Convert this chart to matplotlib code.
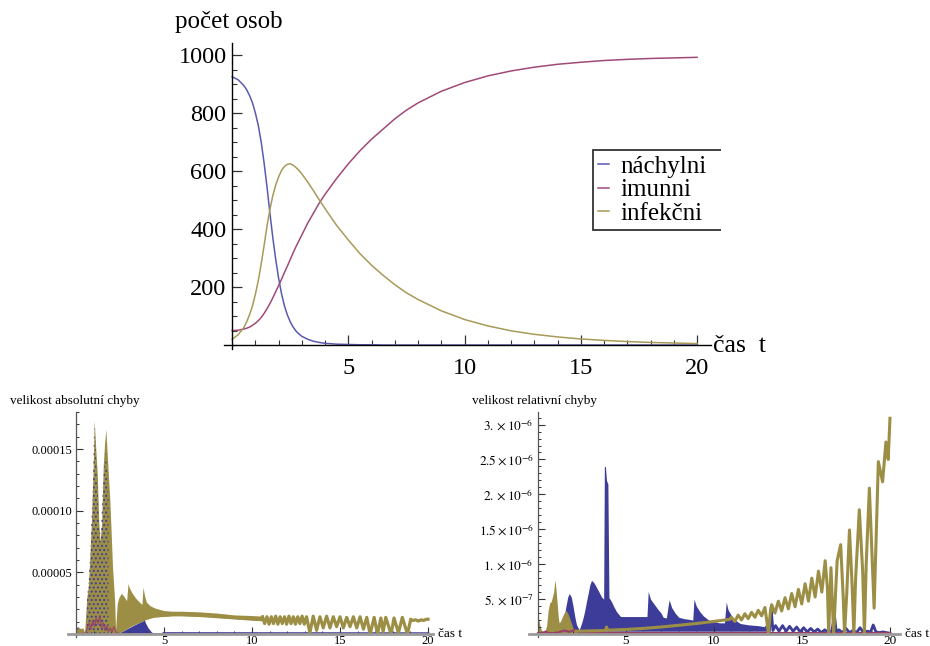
import numpy as np
import matplotlib
matplotlib.use('Agg')
import matplotlib.pyplot as plt
from matplotlib.ticker import MultipleLocator, FixedLocator
from matplotlib.transforms import Bbox, TransformedBbox

plt.rcParams['font.family'] = ['Liberation Serif', 'DejaVu Serif']
plt.rcParams['mathtext.fontset'] = 'stix'
plt.rcParams['hatch.linewidth'] = 0.9

# --- horní graf: počet osob (SIR model) ---
t_top = [0, 0.25, 0.5, 0.625, 0.75, 0.875, 1.0, 1.125, 1.25, 1.375, 1.5, 1.625, 1.75,
         1.875, 2.0, 2.125, 2.25, 2.375, 2.5, 2.625, 2.75, 2.875, 3.0, 3.25,
         3.5, 3.75, 4.0, 4.5, 5.0, 5.5, 6.0, 6.5, 7.0, 7.5, 8.0, 9.0, 10.0, 11.0,
         12.0, 13.0, 14.0, 15.0, 16.0, 17.0, 18.0, 19.0, 20.0]
nachylni = [925, 915, 895, 880, 860, 835, 800, 757, 700, 628, 545, 455, 370,
            295, 230, 177, 135, 104, 80, 62, 48, 38, 30, 20,
            13, 9, 6, 3, 2, 1, 1, 0, 0, 0, 0, 0, 0, 0,
            0, 0, 0, 0, 0, 0, 0, 0, 0]
imunni = [50, 51, 55, 58, 62, 68, 75, 84, 95, 109, 125, 143, 163,
          184, 205, 227, 250, 272, 295, 318, 340, 360, 380, 420,
          455, 490, 520, 575, 625, 670, 710, 745, 780, 810, 835, 875, 905, 928,
          945, 958, 968, 975, 981, 985, 988, 990, 992]
infekcni = [20, 35, 60, 80, 105, 135, 175, 222, 280, 343, 410, 468, 515,
            552, 580, 602, 616, 623, 625, 620, 612, 602, 590, 562,
            532, 500, 470, 412, 362, 315, 275, 240, 208, 180, 157, 118, 88, 66,
            49, 37, 28, 21, 16, 12, 9, 7, 5]
labels_top = ['náchylni', 'imunni', 'infekčni']

# --- absolutní chyba (jednotky 1e-5) ---
abs_start_t = [0.0, 0.1, 0.25, 0.4, 0.5]
abs_start_y = [0.25, 0.55, 0.45, 0.5, 0.1]
abs_start_b = [0.5, 0.6, 0.4, 0.3, 0.05]

abs_spike_t = [0.50, 0.62, 0.70, 0.80, 0.89, 0.98, 1.04, 1.12, 1.21, 1.30, 1.37,
               1.46, 1.55, 1.63, 1.70, 1.80, 1.93, 2.08, 2.20, 2.25]
abs_spike_hi = [0.3, 3.0, 3.8, 6.5, 9.5, 13.6, 17.3, 15.2, 13.0, 9.0, 7.5,
                9.0, 13.6, 15.5, 16.6, 14.0, 10.8, 5.4, 2.7, 0.3]
abs_spike_blue_t = [0.62, 0.80, 0.98, 1.04, 1.21, 1.37, 1.55, 1.70, 1.85]
abs_spike_blue_hi = [2.5, 6.0, 13.0, 17.3, 12.5, 7.0, 12.5, 15.0, 11.0]

abs_band_t = [2.25, 2.35, 2.45, 2.59, 2.75, 2.88, 2.96, 3.05, 3.2, 3.4, 3.6, 3.75,
              3.81, 3.9, 4.0, 4.2, 4.5, 5.0, 5.5, 6.0, 7.0, 8.0, 9.0, 10.0, 10.6]
abs_band_hi = [0.3, 2.5, 3.0, 3.3, 3.0, 2.7, 4.1, 3.7, 3.3, 2.9, 2.6, 2.4,
               3.8, 3.1, 2.6, 2.3, 2.1, 1.9, 1.85, 1.85, 1.8, 1.7, 1.55, 1.5, 1.45]
abs_band_lo = [0.0, 0.0, 0.1, 0.2, 0.35, 0.45, 0.5, 0.6, 0.7, 0.85, 0.95, 1.05,
               1.1, 1.15, 1.2, 1.3, 1.4, 1.45, 1.5, 1.5, 1.45, 1.35, 1.25, 1.15, 1.1]

abs_osc_t = [10.60, 10.72, 10.85, 10.97, 11.10, 11.22, 11.35, 11.47, 11.60, 11.72,
             11.85, 11.97, 12.10, 12.22, 12.35, 12.47, 12.60, 12.72, 12.85, 12.97,
             13.10, 13.29, 13.48, 13.67, 13.86, 14.05, 14.24, 14.43, 14.62, 14.81,
             15.00, 15.19, 15.38, 15.57, 15.76, 15.95, 16.14, 16.33, 16.52, 16.71,
             16.94, 17.13, 17.32, 17.45, 17.60, 17.90, 18.07, 18.32, 18.54, 18.83,
             19.02, 19.11, 19.30, 19.45, 19.60, 19.75, 19.90, 20.0]
abs_osc_v = [1.40, 0.85, 1.40, 0.80, 1.40, 0.85, 1.45, 0.80, 1.40, 0.85,
             1.40, 0.80, 1.45, 0.85, 1.40, 0.80, 1.40, 0.85, 1.45, 0.80,
             1.40, 0.10, 1.45, 0.30, 1.40, 0.50, 1.45, 0.50, 1.40, 0.60,
             1.40, 0.50, 1.35, 0.60, 1.40, 0.50, 1.40, 0.40, 1.35, 0.00,
             1.35, 0.00, 1.30, 0.20, 1.35, 0.00, 1.30, 0.10, 1.35, 0.00,
             1.20, 1.10, 1.15, 1.05, 1.15, 1.10, 1.20, 1.20]

abs_blue_t = [2.3, 2.6, 3.0, 3.4, 3.7, 3.8, 3.85, 3.95, 4.1, 4.3, 4.6, 5.0]
abs_blue_hi = [0.0, 0.2, 0.5, 0.8, 1.0, 1.05, 1.3, 0.9, 0.5, 0.15, 0.06, 0.04]
abs_blue_base_t = [5.0, 20.0]
abs_blue_base_v = [0.04, 0.03]

abs_mag_t = [0, 0.55, 0.65, 0.75, 0.85, 0.95, 1.05, 1.15, 1.25, 1.35, 1.45, 1.55,
             1.65, 1.75, 1.85, 1.95, 2.05, 2.15, 2.3, 2.5, 20]
abs_mag_v = [0.02, 0.05, 0.5, 0.9, 0.4, 1.1, 0.6, 1.3, 0.8, 1.5, 0.5, 0.9,
             0.3, 0.7, 0.2, 0.5, 0.15, 0.6, 0.1, 0.02, 0.02]

# --- relativní chyba (jednotky 1e-7) ---
rel_y_t = [0.0, 0.05, 0.12, 0.2, 0.3, 0.4, 0.5, 0.59, 0.68, 0.75, 0.82, 0.9, 0.97,
           1.03, 1.1, 1.16, 1.21, 1.28, 1.35, 1.45, 1.59, 1.7, 1.85, 2.01, 2.1, 2.2]
rel_y_hi = [2.0, 2.2, 1.2, 0.6, 0.3, 0.3, 1.2, 3.4, 4.5, 4.6, 5.2, 6.0, 7.8,
            6.5, 4.4, 2.5, 1.6, 1.8, 2.2, 2.8, 3.4, 3.0, 2.0, 0.8, 0.5, 0.4]

rel_b_t = [1.40, 1.5, 1.6, 1.7, 1.78, 1.9, 2.0, 2.1, 2.2, 2.35, 2.48, 2.58, 2.67,
           2.76, 2.86, 2.95, 3.05, 3.2, 3.33, 3.5, 3.62, 3.74, 3.78, 3.84, 3.9,
           3.98, 4.04, 4.1, 4.19, 4.3, 4.47, 4.7, 5.0, 5.5, 6.0, 6.2, 6.27, 6.4,
           6.6, 6.8, 7.0, 7.12, 7.3, 7.4, 7.46, 7.6, 7.8, 8.0, 8.3, 8.6, 8.8,
           8.87, 9.0, 9.2, 9.4, 9.7, 10.0, 10.3, 10.6, 10.7, 10.8, 11.0, 11.2,
           11.5, 12.0, 12.5, 13.0]
rel_b_hi = [0.5, 2.5, 4.0, 5.3, 5.8, 5.3, 4.0, 2.5, 1.3, 0.6, 1.5, 2.4, 3.4,
            4.6, 5.8, 7.0, 7.7, 7.3, 6.7, 5.9, 5.3, 5.0, 24.0, 24.0, 22.0,
            21.5, 5.2, 5.0, 4.6, 4.0, 3.2, 2.5, 2.5, 2.5, 2.5, 2.5, 6.1, 5.0,
            4.3, 3.6, 3.0, 2.4, 2.3, 4.0, 4.9, 3.8, 3.0, 2.4, 2.2, 2.1, 2.0,
            5.0, 4.0, 3.2, 2.6, 2.0, 1.8, 1.6, 1.6, 4.6, 3.5, 2.6, 2.0,
            1.5, 1.3, 1.2, 1.0]
rel_b_lo = [0.0] * 10 + [0.4] * 57

rel_b_osc_t = [13.0, 13.15, 13.25, 13.35, 13.5, 13.7, 13.9, 14.1, 14.3, 14.5, 14.7,
               14.9, 15.1, 15.3, 15.5, 15.7, 15.9, 16.1, 16.3, 16.5, 16.7, 16.85,
               16.95, 17.1, 17.3, 17.5, 17.7, 17.9, 18.1, 18.3, 18.5, 18.7, 18.9,
               19.05, 19.2, 19.4, 19.6, 19.8, 20.0]
rel_b_osc_v = [1.0, 0.4, 3.8, 0.5, 1.2, 0.4, 1.2, 0.4, 1.1, 0.4, 1.0,
               0.3, 0.9, 0.3, 0.8, 0.3, 0.7, 0.2, 0.6, 0.2, 0.5, 2.6,
               0.3, 0.6, 0.2, 0.8, 0.2, 0.5, 0.2, 0.9, 0.2, 0.4, 0.3,
               1.3, 0.3, 0.2, 0.3, 0.2, 0.1]

rel_y_line_t = [2.2, 3.0, 3.85, 3.9, 3.95, 4.0, 5.0, 6.0, 7.0, 8.0, 9.0, 10.0, 10.9,
                11.0, 11.19, 11.38, 11.57, 11.76, 11.95, 12.14, 12.33, 12.52, 12.71,
                12.9, 13.1, 13.2, 13.28, 13.47, 13.66, 13.85, 14.04, 14.23, 14.42,
                14.61, 14.8, 14.99, 15.18, 15.37, 15.56, 15.75, 15.94, 16.13, 16.32,
                16.45, 16.52, 16.65, 16.8, 17.0, 17.2, 17.35, 17.42, 17.55, 17.7,
                17.85, 17.95, 18.05, 18.26, 18.45, 18.55, 18.65, 18.83, 18.97, 19.1,
                19.34, 19.58, 19.77, 19.9, 20.0]
rel_y_line_v = [0.4, 0.45, 0.5, 1.0, 0.6, 0.55, 0.65, 0.8, 1.0, 1.25, 1.5, 1.8, 2.1,
                2.4, 1.8, 2.7, 2.0, 2.9, 2.2, 3.1, 2.4, 3.4, 2.6,
                3.8, 0.1, 3.0, 4.2, 3.0, 4.7, 3.3, 5.2, 3.6, 5.8,
                3.9, 6.4, 4.3, 7.2, 4.7, 8.0, 5.3, 9.0, 6.0, 10.5,
                6.5, 0.0, 9.5, 0.0, 10.5, 12.8, 5.0, 0.0, 6.0, 14.9,
                7.0, 0.0, 8.0, 17.8, 9.0, 0.0, 10.0, 20.9, 12.0, 3.7,
                24.7, 21.8, 27.5, 25.0, 30.9]

rel_mag_t = [0, 0.3, 0.45, 0.6, 1.0, 1.5, 1.8, 2.1, 2.5, 20]
rel_mag_v = [0.1, 0.2, 0.35, 0.15, 0.1, 0.5, 0.3, 0.6, 0.15, 0.15]

BLUE = '#3d3d99'
MAG = '#993d6b'
OLIVE = '#9c8f45'

W, H = 930, 646
fig = plt.figure(figsize=(W / 100, H / 100), dpi=100)


def px_rect(x0, y0, x1, y1):
    return [x0 / W, 1 - y1 / H, (x1 - x0) / W, (y1 - y0) / H]


def style_axes(ax, color_x, color_y, lw_x, lw_y):
    for s in ['top', 'right']:
        ax.spines[s].set_visible(False)
    ax.spines['left'].set_position(('data', 0))
    ax.spines['bottom'].set_position(('data', 0))
    ax.spines['bottom'].set_color(color_x)
    ax.spines['bottom'].set_linewidth(lw_x)
    ax.spines['left'].set_color(color_y)
    ax.spines['left'].set_linewidth(lw_y)
    ax.set_xticks([5, 10, 15, 20])
    ax.xaxis.set_minor_locator(FixedLocator([i for i in range(1, 21) if i % 5]))
    ax.tick_params(which='both', direction='in', colors='#333333')
    ax.patch.set_visible(False)


# ---------- horní graf ----------
ax1 = fig.add_axes(px_rect(224, 43.4, 711, 349.4))
ax1.set_xlim(-0.35, 20.6)
ax1.set_ylim(-15, 1040)
style_axes(ax1, 'black', 'black', 1.0, 1.0)
ax1.set_yticks([200, 400, 600, 800, 1000])
ax1.yaxis.set_minor_locator(MultipleLocator(50))
ax1.tick_params(which='major', length=7, width=0.9, labelsize=17.5, labelcolor='black')
ax1.tick_params(axis='y', which='major', pad=4)
ax1.tick_params(axis='x', which='major', pad=9)
ax1.tick_params(which='minor', length=3.5, width=0.8)
l1, = ax1.plot(t_top, nachylni, color='#5a5ab0', lw=1.1)
l2, = ax1.plot(t_top, imunni, color='#a04a78', lw=1.1)
l3, = ax1.plot(t_top, infekcni, color='#a89a58', lw=1.1)
fig.text(175 / W, 1 - 22 / H, 'počet osob', fontsize=18, va='center', ha='left')
fig.text(713 / W, 1 - 346 / H, 'čas  t', fontsize=18.5, va='center', ha='left')
leg = ax1.legend([l1, l2, l3], labels_top, loc='upper left', mode='expand',
                 bbox_to_anchor=(593 / W, 1 - 226 / H, 140 / W, 76 / H),
                 bbox_transform=fig.transFigure,
                 fontsize=18, frameon=True, fancybox=False, edgecolor='black',
                 handlelength=0.45, handletextpad=0.45, labelspacing=0.05,
                 borderpad=0.2, borderaxespad=0)
leg.get_frame().set_linewidth(1.3)
leg.get_frame().set_clip_box(TransformedBbox(Bbox([[0, 0], [721 / W, 1]]), fig.transFigure))
leg.get_frame().set_clip_on(True)

# ---------- absolutní chyba ----------
s5 = 1e-5
ax2 = fig.add_axes(px_rect(68, 412, 433.3, 637))
ax2.set_xlim(-0.45, 20.3)
ax2.set_ylim(-0.24 * s5, 18.0 * s5)
style_axes(ax2, '#9a9a9a', '#555555', 2.0, 0.9)
ax2.set_yticks([5 * s5, 10 * s5, 15 * s5])
ax2.set_yticklabels(['0.00005', '0.00010', '0.00015'])
ax2.yaxis.set_minor_locator(MultipleLocator(1 * s5))
ax2.tick_params(which='major', length=5, width=0.8, labelsize=9, labelcolor='black')
ax2.tick_params(axis='y', which='major', pad=3)
ax2.tick_params(axis='x', which='major', pad=0.5)
ax2.tick_params(which='minor', length=2.5, width=0.7)

ax2.fill_between(abs_start_t, 0, np.array(abs_start_b) * s5, color=BLUE, lw=0)
ax2.fill_between(abs_start_t, 0, np.array(abs_start_y) * s5, color=OLIVE, lw=0)
ax2.fill_between(abs_blue_t, 0, np.array(abs_blue_hi) * s5, color=BLUE, lw=0)
ax2.plot(abs_blue_base_t, np.array(abs_blue_base_v) * s5, color=BLUE, lw=2)
ax2.fill_between(abs_spike_t, 0, np.array(abs_spike_hi) * s5, color=OLIVE, lw=0)
ax2.fill_between(abs_spike_blue_t, 0, np.array(abs_spike_blue_hi) * s5, facecolor='none',
                 edgecolor=BLUE, hatch='....', lw=0)
ax2.fill_between(abs_band_t, np.array(abs_band_lo) * s5, np.array(abs_band_hi) * s5,
                 color=OLIVE, lw=0)
ax2.plot(abs_band_t, np.array(abs_band_lo) * s5, color=OLIVE, lw=1.2)
ax2.plot(abs_osc_t, np.array(abs_osc_v) * s5, color=OLIVE, lw=2.3)
ax2.plot(abs_mag_t, np.array(abs_mag_v) * s5, color=MAG, lw=1.0, alpha=0.8)
fig.text(10 / W, 1 - 401 / H, 'velikost absolutní chyby', fontsize=9.5, va='center', ha='left')
fig.text(438 / W, 1 - 634 / H, 'čas t', fontsize=9.5, va='center', ha='left')

# ---------- relativní chyba ----------
s7 = 1e-7
ax3 = fig.add_axes(px_rect(529, 412, 900, 637))
ax3.set_xlim(-0.5, 20.57)
ax3.set_ylim(-0.43 * s7, 31.8 * s7)
style_axes(ax3, '#9a9a9a', '#555555', 2.0, 0.9)
ax3.set_yticks([5 * s7, 10 * s7, 15 * s7, 20 * s7, 25 * s7, 30 * s7])
ax3.set_yticklabels([r'$5.\times10^{-7}$', r'$1.\times10^{-6}$', r'$1.5\times10^{-6}$',
                     r'$2.\times10^{-6}$', r'$2.5\times10^{-6}$', r'$3.\times10^{-6}$'])
ax3.yaxis.set_minor_locator(MultipleLocator(1 * s7))
ax3.tick_params(which='major', length=5, width=0.8, labelsize=9.5, labelcolor='black')
ax3.tick_params(axis='y', which='major', pad=3)
ax3.tick_params(axis='x', which='major', pad=0.5)
ax3.tick_params(which='minor', length=2.5, width=0.7)

ax3.fill_between(rel_b_t, np.array(rel_b_lo) * s7, np.array(rel_b_hi) * s7, color=BLUE, lw=0)
ax3.plot(rel_b_osc_t, np.array(rel_b_osc_v) * s7, color=BLUE, lw=2.0)
ax3.plot(rel_mag_t, np.array(rel_mag_v) * s7, color=MAG, lw=1.5)
ax3.fill_between(rel_y_t, 0, np.array(rel_y_hi) * s7, color=OLIVE, lw=0)
ax3.plot(rel_y_line_t, np.array(rel_y_line_v) * s7, color=OLIVE, lw=2.2)
fig.text(472 / W, 1 - 401 / H, 'velikost relativní chyby', fontsize=9.5, va='center', ha='left')
fig.text(905 / W, 1 - 634 / H, 'čas t', fontsize=9.5, va='center', ha='left')

fig.savefig('out.png', dpi=100)
